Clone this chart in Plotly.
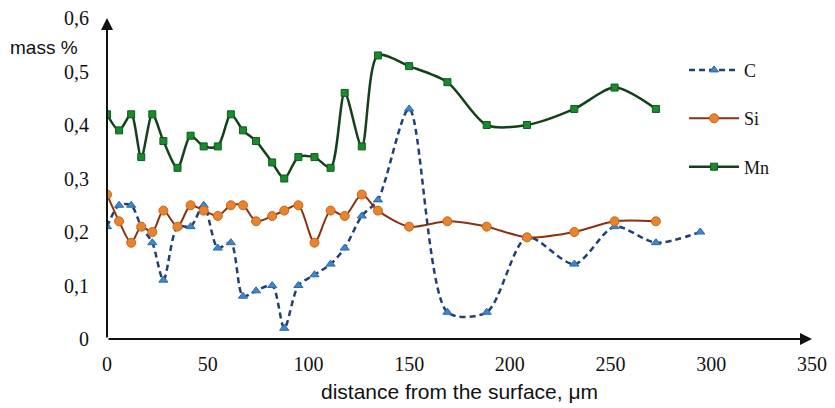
import plotly.graph_objects as go

# distance from the surface, µm
x_main = [0, 6, 12, 17, 22.5, 28, 35, 41.5, 48, 55, 61.5, 67.5, 74, 82, 88, 95,
          103, 111, 118, 126.5, 134.5, 150, 169, 188.5, 208.5, 232, 252, 272.5]
x_c = x_main + [294.5]

c_vals = [0.21, 0.25, 0.25, 0.21, 0.18, 0.11, 0.21, 0.21, 0.25, 0.17, 0.18, 0.08, 0.09,
          0.10, 0.02, 0.10, 0.12, 0.14, 0.17, 0.23, 0.26, 0.43, 0.05, 0.05, 0.19, 0.14,
          0.21, 0.18, 0.20]
si_vals = [0.27, 0.22, 0.18, 0.21, 0.20, 0.24, 0.21, 0.25, 0.24, 0.23, 0.25, 0.25, 0.22,
           0.23, 0.24, 0.25, 0.18, 0.24, 0.23, 0.27, 0.24, 0.21, 0.22, 0.21, 0.19, 0.20,
           0.22, 0.22]
mn_vals = [0.42, 0.39, 0.42, 0.34, 0.42, 0.37, 0.32, 0.38, 0.36, 0.36, 0.42, 0.39, 0.37,
           0.33, 0.30, 0.34, 0.34, 0.32, 0.46, 0.36, 0.53, 0.51, 0.48, 0.40, 0.40, 0.43,
           0.47, 0.43]

x_ticks = [0, 50, 100, 150, 200, 250, 300, 350]
y_ticks = [0, 0.1, 0.2, 0.3, 0.4, 0.5, 0.6]
y_ticktext = ["0", "0,1", "0,2", "0,3", "0,4", "0,5", "0,6"]

fig = go.Figure()
fig.add_trace(go.Scatter(
    x=x_c, y=c_vals, name="C", legendgroup="C", mode="lines+markers",
    line=dict(color="#1f3f78", width=2.5, dash="6px,4px", shape="spline", smoothing=0.8),
    marker=dict(symbol="triangle-up", size=8, color="#3f86c8", line=dict(color="#2d6aa8", width=1)),
))
fig.add_trace(go.Scatter(
    x=x_main, y=si_vals, name="Si", legendgroup="Si", mode="lines+markers",
    line=dict(color="#8a3210", width=2, shape="spline", smoothing=0.8),
    marker=dict(symbol="circle", size=9, color="#e8832e", line=dict(color="#c8651a", width=1)),
))
fig.add_trace(go.Scatter(
    x=x_main, y=mn_vals, name="Mn", legendgroup="Mn", mode="lines+markers",
    line=dict(color="#14401a", width=2.5, shape="spline", smoothing=0.8),
    marker=dict(symbol="square", size=7, color="#1b8a2e", line=dict(color="#0e5a1a", width=1)),
))

# axes with arrowheads
fig.add_annotation(x=350, y=0, ax=0, ay=0, xref="x", yref="y", axref="x", ayref="y",
                   showarrow=True, arrowhead=2, arrowsize=1.2, arrowwidth=2, arrowcolor="#111", text="")
fig.add_annotation(x=0, y=0.6, ax=0, ay=0, xref="x", yref="y", axref="x", ayref="y",
                   showarrow=True, arrowhead=2, arrowsize=1.2, arrowwidth=2, arrowcolor="#111", text="")

fig.add_annotation(text="mass %", xref="paper", yref="paper", x=-0.089, y=0.907,
                   xanchor="center", yanchor="middle",
                   showarrow=False, font=dict(family="Liberation Sans", size=19, color="#111"))

fig.update_layout(
    width=835, height=408,
    margin=dict(l=99, r=31, t=10, b=77),
    paper_bgcolor="white", plot_bgcolor="white",
    separators=", ",
    showlegend=True,
    legend=dict(x=0.8185, y=0.895, xanchor="left", yanchor="top",
                font=dict(family="Liberation Serif", size=18, color="#111"),
                tracegroupgap=22, traceorder="grouped", itemwidth=50,
                bgcolor="rgba(0,0,0,0)"),
    xaxis=dict(range=[0, 350], tickvals=x_ticks, showgrid=False, zeroline=False,
               showline=False, ticks="", automargin=False, ticklabelstandoff=11,
               ticklabeloverflow="allow",
               tickfont=dict(family="Liberation Serif", size=20, color="#111"),
               title=dict(text="distance from the surface, μm", standoff=10,
                          font=dict(family="Liberation Sans", size=21, color="#111"))),
    yaxis=dict(range=[0, 0.6], tickvals=y_ticks, ticktext=y_ticktext, showgrid=False,
               zeroline=False, showline=False, ticks="", automargin=False,
               ticklabelstandoff=17, ticklabeloverflow="allow",
               tickfont=dict(family="Liberation Serif", size=20, color="#111")),
)
fig.write_html("out.html")
